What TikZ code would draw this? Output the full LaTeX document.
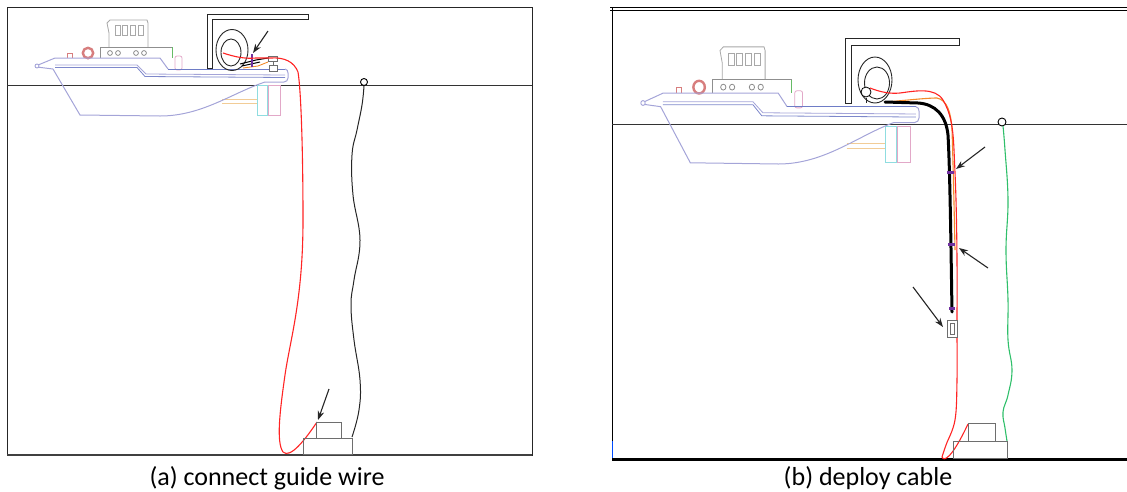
\documentclass[tikz,border=0pt]{standalone}
\usepackage{fontspec}
\setmainfont{Carlito}
\usetikzlibrary{arrows.meta}

\definecolor{hullc}{HTML}{A4A4D8}
\definecolor{deckc}{HTML}{6E7CC6}
\definecolor{housec}{HTML}{A8A8A8}
\definecolor{portc}{HTML}{8A8A8A}
\definecolor{ringc}{HTML}{D77E7E}
\definecolor{postc}{HTML}{66BB66}
\definecolor{pinkc}{HTML}{E2A8C8}
\definecolor{cyanc}{HTML}{8FDDE0}
\definecolor{propc}{HTML}{F2CC96}
\definecolor{wirered}{HTML}{FF2424}
\definecolor{wireorange}{HTML}{F28A2A}
\definecolor{wiregreen}{HTML}{2FBF6A}
\definecolor{markc}{HTML}{7030A0}
\definecolor{blockc}{HTML}{6E6E6E}

\tikzset{
  frameline/.style={black, line width=1pt},
  waterline/.style={black!80, line width=0.9pt},
  framebox/.style={black!85, line width=0.9pt},
  redwire/.style={wirered, line width=1.1pt},
  orangewire/.style={wireorange, line width=1.1pt},
  greenwire/.style={wiregreen, line width=1.1pt},
  guidewire/.style={black!85, line width=1pt},
  cablewire/.style={black, line width=3pt, line cap=round},
  pointer/.style={-{Stealth[length=9pt,width=6.5pt]}, black!85, line width=1.1pt},
  blockbox/.style={draw=blockc, line width=0.9pt},
  buoy/.style={draw=black, fill=white, line width=0.9pt},
  marker/.style={fill=markc, draw=none},
  caption/.style={font=\fontsize{26}{30}\selectfont, inner sep=0pt},
  % work boat drawn from its bow tip
  ship/.pic={
    % stern gear below the waterline
    \draw[propc, line width=0.8pt] (185,33) -- (220,33) (185,37) -- (220,37);
    \draw[cyanc, line width=0.8pt] (220,19) rectangle (230,49);
    \draw[pinkc, line width=0.8pt] (231,19) rectangle (243,49);
    % bridge
    \draw[housec, line width=0.8pt] (72,-19) -- (72,-33) -- (70,-43) -- (73,-46) -- (110,-46) -- (111,-43) -- (111,-19);
    \foreach \wx in {78,85,93,101}
      \draw[housec, line width=0.8pt] (\wx,-41) rectangle ++(5.5,10);
    % deck house with port holes
    \draw[housec!85!black, line width=0.8pt] (63,-8) -- (63,-19) -- (135,-19);
    \draw[postc, line width=0.8pt] (135,-19) -- (135,-8);
    \foreach \px in {73,81,99,107}
      \draw[portc, line width=0.8pt] (\px,-13) circle (2.4);
    % life ring and small fitting
    \draw[ringc, line width=2.4pt] (51,-13) circle (5.2);
    \draw[ringc, line width=1pt] (30,-8) -- (30,-13) -- (35,-13) -- (35,-8);
    \draw[pinkc, line width=0.8pt, rounded corners=2pt] (138,-10) rectangle (145,4);
    % hull
    \draw[hullc, line width=0.9pt] (0,0) circle (2);
    \draw[hullc, line width=1pt] (1.6,-1.2) -- (18,-8) -- (123,-8) -- (131,3);
    \draw[deckc, line width=1pt] (131,3) -- (248,3);
    \draw[hullc, line width=1pt] (248,3) to[out=0,in=90] (251,7) -- (251,12) to[out=-90,in=0] (247,16) -- (228,16);
    \draw[hullc, line width=1pt] (1.6,1.2) -- (16,3) -- (43,49) -- (123,50) .. controls (165,50) and (195,27) .. (228,16);
    \draw[hullc, line width=0.8pt] (18,-1) -- (100,-1) -- (109,8) -- (248,9);
    \draw[deckc!70!hullc, line width=0.8pt] (18,1.5) -- (100,1.5) -- (108,10.5) -- (248,11.5);
  }
}

\begin{document}
\begin{tikzpicture}[x=1pt,y=-1pt]
\useasboundingbox (0,0) rectangle (1127,491);

% ---------------- (a) connect guide wire ----------------
\draw[framebox] (7,7) rectangle (532,455);
\draw[black!75, line width=1.6pt] (7,455) -- (532,455);
\draw[waterline] (7,85) -- (532,85);
\pic at (37,66) {ship};

% A-frame and winch drum
\draw[black!85, line width=0.9pt] (207,68) -- (207,14) -- (308,14) -- (308,19) -- (212,19) -- (212,68) -- cycle;
\draw[black!85, line width=0.9pt] (232,50) ellipse [x radius=16, y radius=20.5];
\draw[black!85, line width=0.9pt] (231,52.5) ellipse [x radius=10, y radius=13.5];

% leads from the drum to the deck fitting
\coordinate (aDrum) at (223,53);
\coordinate (aFit) at (273,63);
\draw[black, line width=1pt] (240,64) -- (256,60) -- (268,58);
\draw[black, line width=1pt] (242,66) -- (260,62);
\draw[orangewire, line width=0.9pt] (243,68) -- (258,66) -- (268,62);
\draw[markc, line width=1.8pt] (252,54) -- (252,67);
\draw[blockc, line width=0.9pt, fill=white] (268,56) rectangle (277,61);
\draw[blockc, line width=0.9pt, fill=white] (269,65) rectangle (277,71);
\draw[blockc, line width=0.9pt] (273,61) -- (273,65);

% red lead down to the seabed unit
\coordinate (aUnit) at (317,422);
\draw[redwire] (aDrum) .. controls (235,57) and (245,59) .. (256,58) -- (270,58)
  .. controls (285,57) and (294,62) .. (298,72)
  .. controls (301,90) and (303,150) .. (303,220)
  .. controls (303,300) and (290,340) .. (285,375)
  .. controls (280,410) and (276,442) .. (283,452)
  .. controls (290,459) and (305,440) .. (aUnit);

% buoy and guide wire
\node[buoy, circle, minimum size=7pt, inner sep=0pt] (aBuoy) at (364,82) {};
\draw[guidewire] plot[smooth, tension=0.7] coordinates {(364,86) (362,105) (357,130) (352,155) (353,195) (360,240) (354,280) (351,305) (354,340) (360,380) (359,410) (352,437)};

% seabed unit
\draw[blockbox] (303,438) rectangle (352,454);
\draw[blockbox] (316,422) rectangle (341,438);

% pointers
\coordinate (aP1s) at (268,31);
\coordinate (aP1e) at (253,53);
\coordinate (aP2s) at (329,389);
\coordinate (aP2e) at (318,420);
\draw[pointer] (aP1s) -- (aP1e);
\draw[pointer] (aP2s) -- (aP2e);

\node[caption] (capA) at (267,478) {(a) connect guide wire};

% ---------------- (b) deploy cable ----------------
\draw[frameline] (610,7.8) -- (1127,7.8);
\draw[frameline] (610,10.4) -- (1127,10.4);
\draw[frameline] (612,8) -- (612,459);
\draw[blue!70!cyan, line width=1pt] (612.3,441) -- (612.3,459);
\draw[black, line width=3pt] (612,459) -- (1127,459);
\draw[waterline] (612,124) -- (1127,124);
\pic[xscale=1.1, yscale=1.22] at (643,103) {ship};

% A-frame and cable drum
\draw[black!85, line width=0.9pt] (845,103) -- (845,38) -- (959,38) -- (959,45) -- (851,45) -- (851,103) -- cycle;
\draw[black!85, line width=0.9pt] (875,80) ellipse [x radius=17, y radius=23];
\draw[black!85, line width=0.9pt] (877,83) ellipse [x radius=12.5, y radius=16];
\draw[black!85, line width=0.8pt] (866,98) -- (866,103);
\node[buoy, circle, minimum size=10pt, inner sep=0pt, line width=0.8pt] (bSheave) at (866,92) {};

% cable and leads over the side
\coordinate (bDrum) at (885,102);
\draw[orangewire] (bDrum) .. controls (900,101) and (925,98) .. (937,98)
  .. controls (947,100) and (951,112) .. (952,130)
  .. controls (953,160) and (954,200) .. (955,250);
\draw[cablewire] (bDrum) -- (918,103) .. controls (935,104) and (946,115) .. (948,135)
  .. controls (950,170) and (951,250) .. (952,312);
\draw[redwire] (870,88) .. controls (880,92) and (890,94) .. (900,93)
  .. controls (915,91) and (935,87) .. (943,100)
  .. controls (950,112) and (953,125) .. (954,150)
  -- plot[smooth, tension=0.6] coordinates {(954,150) (956,200) (957,260) (957,330) (957,380) (955,420) (946,445) (942,457)}
  .. controls (944,462) and (952,458) .. (968,424);

% clamps and connector on the cable
\fill[marker] (947,170.5) rectangle (954,174);
\fill[marker] (948,242.5) rectangle (955,246);
\fill[marker] (949,306.5) rectangle (955,310);
\draw[blockc, line width=0.9pt, fill=white] (947,320) rectangle (957,337);
\draw[blockc, line width=0.7pt] (950,323) rectangle (954,334);

% buoy and guide wire
\node[buoy, circle, minimum size=8pt, inner sep=0pt] (bBuoy) at (1002,122) {};
\draw[greenwire] plot[smooth, tension=0.7] coordinates {(1003,126) (1005,150) (1008,200) (1006,250) (1008,300) (1008,340) (1012,370) (1008,395) (1003,412) (1005,428) (1007,441)};

% seabed unit
\draw[blockbox] (953,441) rectangle (1007,458);
\draw[blockbox] (968,423) rectangle (995,441);

% pointers
\coordinate (bP1s) at (985,147);
\coordinate (bP1e) at (956,169);
\coordinate (bP2s) at (988,268);
\coordinate (bP2e) at (959,248);
\coordinate (bP3s) at (913,287);
\coordinate (bP3e) at (943,327);
\draw[pointer] (bP1s) -- (bP1e);
\draw[pointer] (bP2s) -- (bP2e);
\draw[pointer] (bP3s) -- (bP3e);

\node[caption] (capB) at (868,478) {(b) deploy cable};
\end{tikzpicture}
\end{document}
